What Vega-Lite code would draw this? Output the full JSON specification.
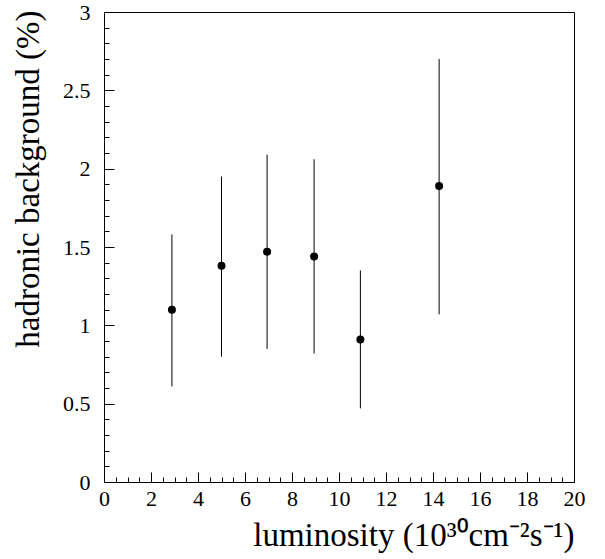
{
  "$schema": "https://vega.github.io/schema/vega-lite/v6.json",
  "width": 470,
  "height": 470,
  "autosize": "none",
  "padding": {"left": 104, "top": 12, "right": 31, "bottom": 77},
  "background": "white",
  "data": {
    "values": [
      {"lum": 2.89, "bg": 1.10, "lo": 0.61, "hi": 1.58},
      {"lum": 5.0, "bg": 1.38, "lo": 0.80, "hi": 1.95},
      {"lum": 6.94, "bg": 1.47, "lo": 0.85, "hi": 2.09},
      {"lum": 8.94, "bg": 1.44, "lo": 0.82, "hi": 2.06},
      {"lum": 10.91, "bg": 0.91, "lo": 0.47, "hi": 1.35},
      {"lum": 14.26, "bg": 1.89, "lo": 1.07, "hi": 2.70}
    ]
  },
  "layer": [
    {
      "mark": {"type": "rule", "color": "black", "strokeWidth": 1},
      "encoding": {
        "x": {
          "field": "lum", "type": "quantitative",
          "scale": {"domain": [0, 20], "nice": false, "zero": false},
          "axis": {
            "title": "luminosity (10³⁰cm⁻²s⁻¹)",
            "grid": false,
            "values": [0,0.5,1,1.5,2,2.5,3,3.5,4,4.5,5,5.5,6,6.5,7,7.5,8,8.5,9,9.5,10,10.5,11,11.5,12,12.5,13,13.5,14,14.5,15,15.5,16,16.5,17,17.5,18,18.5,19,19.5,20],
            "labelExpr": "datum.value % 2 === 0 ? format(datum.value, 'd') : ''",
            "tickSize": {"condition": {"test": "datum.value % 2 === 0", "value": -10}, "value": -5},
            "labelPadding": 16,
            "labelOverlap": false,
            "labelFlush": false,
            "labelBound": false,
            "labelFont": "Liberation Serif",
            "labelFontSize": 22,
            "labelColor": "black",
            "titleFont": "Liberation Serif",
            "titleFontSize": 33,
            "titleFontWeight": "normal",
            "titleColor": "black",
            "titleAnchor": "end",
            "titleAlign": "right",
            "titleBaseline": "alphabetic",
            "titleX": 470,
            "titleY": 63
          }
        },
        "y": {
          "field": "lo", "type": "quantitative",
          "scale": {"domain": [0, 3], "nice": false, "zero": false},
          "axis": {
            "title": "hadronic background (%)",
            "grid": false,
            "values": [0,0.1,0.2,0.3,0.4,0.5,0.6,0.7,0.8,0.9,1,1.1,1.2,1.3,1.4,1.5,1.6,1.7,1.8,1.9,2,2.1,2.2,2.3,2.4,2.5,2.6,2.7,2.8,2.9,3],
            "labelExpr": "round(datum.value * 10) % 5 === 0 ? format(datum.value, '~g') : ''",
            "tickSize": {"condition": {"test": "round(datum.value * 10) % 5 === 0", "value": -10}, "value": -5},
            "labelPadding": 24,
            "labelOverlap": false,
            "labelFlush": false,
            "labelBound": false,
            "labelFont": "Liberation Serif",
            "labelFontSize": 22,
            "labelColor": "black",
            "titleFont": "Liberation Serif",
            "titleFontSize": 33,
            "titleFontWeight": "normal",
            "titleColor": "black",
            "titleAnchor": "end",
            "titleAlign": "right",
            "titleBaseline": "alphabetic",
            "titleAngle": -90,
            "titleX": -66,
            "titleY": -2
          }
        },
        "y2": {"field": "hi"}
      }
    },
    {
      "mark": {"type": "point", "shape": "circle", "filled": true, "color": "black", "opacity": 1, "size": 64},
      "encoding": {
        "x": {
          "field": "lum", "type": "quantitative",
          "scale": {"domain": [0, 20], "nice": false, "zero": false},
          "axis": {
            "title": "luminosity (10³⁰cm⁻²s⁻¹)",
            "grid": false,
            "values": [0,0.5,1,1.5,2,2.5,3,3.5,4,4.5,5,5.5,6,6.5,7,7.5,8,8.5,9,9.5,10,10.5,11,11.5,12,12.5,13,13.5,14,14.5,15,15.5,16,16.5,17,17.5,18,18.5,19,19.5,20],
            "labelExpr": "datum.value % 2 === 0 ? format(datum.value, 'd') : ''",
            "tickSize": {"condition": {"test": "datum.value % 2 === 0", "value": -10}, "value": -5},
            "labelPadding": 16,
            "labelOverlap": false,
            "labelFlush": false,
            "labelBound": false,
            "labelFont": "Liberation Serif",
            "labelFontSize": 22,
            "labelColor": "black",
            "titleFont": "Liberation Serif",
            "titleFontSize": 33,
            "titleFontWeight": "normal",
            "titleColor": "black",
            "titleAnchor": "end",
            "titleAlign": "right",
            "titleBaseline": "alphabetic",
            "titleX": 470,
            "titleY": 63
          }
        },
        "y": {
          "field": "bg", "type": "quantitative",
          "scale": {"domain": [0, 3], "nice": false, "zero": false},
          "axis": {
            "title": "hadronic background (%)",
            "grid": false,
            "values": [0,0.1,0.2,0.3,0.4,0.5,0.6,0.7,0.8,0.9,1,1.1,1.2,1.3,1.4,1.5,1.6,1.7,1.8,1.9,2,2.1,2.2,2.3,2.4,2.5,2.6,2.7,2.8,2.9,3],
            "labelExpr": "round(datum.value * 10) % 5 === 0 ? format(datum.value, '~g') : ''",
            "tickSize": {"condition": {"test": "round(datum.value * 10) % 5 === 0", "value": -10}, "value": -5},
            "labelPadding": 24,
            "labelOverlap": false,
            "labelFlush": false,
            "labelBound": false,
            "labelFont": "Liberation Serif",
            "labelFontSize": 22,
            "labelColor": "black",
            "titleFont": "Liberation Serif",
            "titleFontSize": 33,
            "titleFontWeight": "normal",
            "titleColor": "black",
            "titleAnchor": "end",
            "titleAlign": "right",
            "titleBaseline": "alphabetic",
            "titleAngle": -90,
            "titleX": -66,
            "titleY": -2
          }
        }
      }
    }
  ],
  "config": {
    "view": {"stroke": "black", "strokeWidth": 1},
    "axis": {
      "domainColor": "black",
      "domainWidth": 1,
      "tickColor": "black",
      "tickWidth": 1,
      "labelFont": "Liberation Serif",
      "titleFont": "Liberation Serif"
    },
    "style": {
      "guide-label": {"font": "Liberation Serif", "fontSize": 22, "fill": "black"},
      "guide-title": {"font": "Liberation Serif", "fontSize": 33, "fontWeight": "normal", "fill": "black"}
    }
  }
}
